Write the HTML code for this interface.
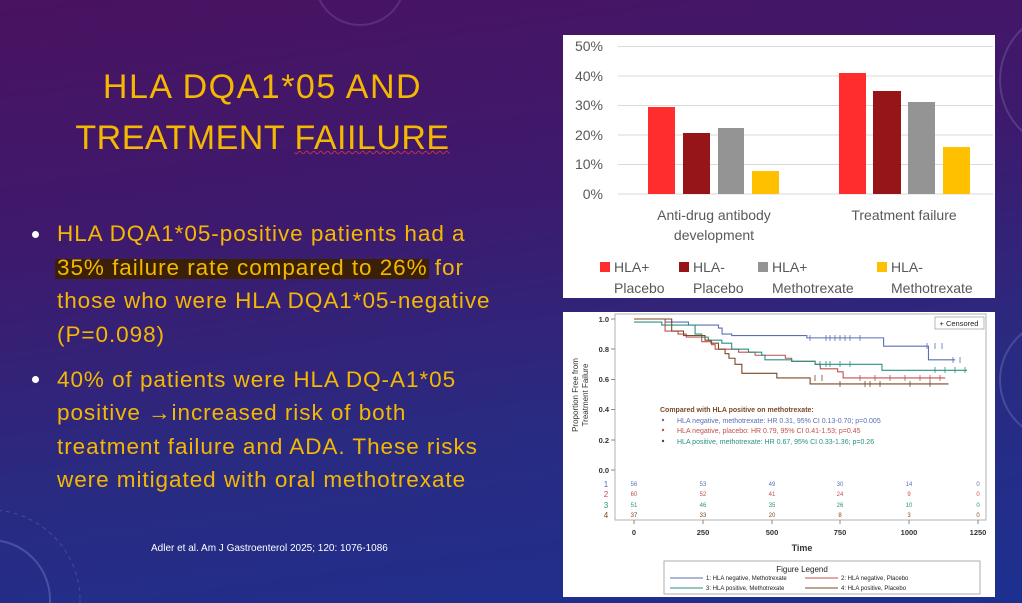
<!DOCTYPE html>
<html><head><meta charset="utf-8"><style>
*{margin:0;padding:0;box-sizing:border-box}
html,body{width:1022px;height:603px;overflow:hidden}
body{position:relative;font-family:"Liberation Sans",sans-serif;
background:linear-gradient(172deg,#4a1260 0%,#3d1a6e 35%,#2a2a80 65%,#1d3090 100%);}
.t{position:absolute;color:#f5b800;white-space:nowrap}
.title{font-size:34px;left:0;width:525px;text-align:center;letter-spacing:0.5px}
.b{font-size:22.5px;left:57px;letter-spacing:0.95px}
.dot{position:absolute;width:7px;height:7px;border-radius:50%;background:#fff}
</style></head><body>
<svg style="position:absolute;left:0;top:0" width="1022" height="603">
<circle cx="1070" cy="80" r="70" fill="none" stroke="#7a6aa8" stroke-width="2" opacity="0.4"/>
<circle cx="1060" cy="380" r="60" fill="none" stroke="#7a8ac8" stroke-width="2" opacity="0.35"/>
<circle cx="-10" cy="600" r="60" fill="none" stroke="#7a8ac8" stroke-width="2" opacity="0.4"/>
<circle cx="-10" cy="600" r="90" fill="none" stroke="#7a8ac8" stroke-width="1" stroke-dasharray="4 4" opacity="0.35"/>
<circle cx="360" cy="-20" r="45" fill="none" stroke="#8a6ab8" stroke-width="2" opacity="0.3"/>
</svg>
<div class="t title" style="top:68px;letter-spacing:1.5px">HLA DQA1*05 AND</div>
<div class="t title" style="top:119px">TREATMENT <span style="text-decoration:underline wavy #c03050;text-decoration-thickness:1px">FAIILURE</span></div>
<div style="position:absolute;left:55px;top:259px;width:374px;height:20px;background:#3a2006"></div>
<div class="dot" style="left:32px;top:231px"></div>
<div class="t b" style="top:221px">HLA DQA1*05-positive patients had a</div>
<div class="t b" style="top:255px">35% failure rate compared to 26% for</div>
<div class="t b" style="top:288px">those who were HLA DQA1*05-negative</div>
<div class="t b" style="top:322px">(P=0.098)</div>
<div class="dot" style="left:32px;top:376px"></div>
<div class="t b" style="top:367px">40% of patients were HLA DQ-A1*05</div>
<div class="t b" style="top:400px">positive &#8594;increased risk of both</div>
<div class="t b" style="top:434px">treatment failure and ADA. These risks</div>
<div class="t b" style="top:467px">were mitigated with oral methotrexate</div>
<div class="t" style="left:151px;top:543px;font-size:10px;color:#fff">Adler et al. Am J Gastroenterol 2025; 120: 1076-1086</div>

<svg style="position:absolute;left:0;top:0" width="1022" height="603" font-family="Liberation Sans, sans-serif">
<rect x="563" y="35" width="432" height="263" fill="#fff"/>
<g stroke="#d9d9d9" stroke-width="1">
<line x1="618" x2="993" y1="46.5" y2="46.5"/><line x1="618" x2="993" y1="76" y2="76"/><line x1="618" x2="993" y1="105.5" y2="105.5"/>
<line x1="618" x2="993" y1="135" y2="135"/><line x1="618" x2="993" y1="164.5" y2="164.5"/><line x1="618" x2="993" y1="194" y2="194"/>
</g>
<g font-size="14" fill="#595959" text-anchor="end">
<text x="603" y="51">50%</text><text x="603" y="81">40%</text><text x="603" y="110">30%</text><text x="603" y="140">20%</text><text x="603" y="169">10%</text><text x="603" y="199">0%</text>
</g>
<rect x="648" y="107" width="27" height="87" fill="#ff2d2d"/>
<rect x="683" y="133" width="27" height="61" fill="#951519"/>
<rect x="718" y="128" width="26" height="66" fill="#949494"/>
<rect x="752" y="171" width="27" height="23" fill="#ffc000"/>
<rect x="839" y="73" width="27" height="121" fill="#ff2d2d"/>
<rect x="873" y="91" width="28" height="103" fill="#951519"/>
<rect x="908" y="102" width="27" height="92" fill="#949494"/>
<rect x="943" y="147" width="27" height="47" fill="#ffc000"/>
<g font-size="14" fill="#595959" text-anchor="middle">
<text x="714" y="220">Anti-drug antibody</text><text x="714" y="240">development</text>
<text x="904" y="220">Treatment failure</text>
</g>
<g font-size="14" fill="#595959">
<rect x="600" y="262" width="10" height="10" fill="#ff2d2d"/><text x="614" y="272">HLA+</text><text x="614" y="293">Placebo</text>
<rect x="679" y="262" width="10" height="10" fill="#951519"/><text x="693" y="272">HLA-</text><text x="693" y="293">Placebo</text>
<rect x="758" y="262" width="10" height="10" fill="#949494"/><text x="772" y="272">HLA+</text><text x="772" y="293">Methotrexate</text>
<rect x="877" y="262" width="10" height="10" fill="#ffc000"/><text x="891" y="272">HLA-</text><text x="891" y="293">Methotrexate</text>
</g>

<rect x="563" y="312" width="432" height="285" fill="#fff"/>
<rect x="615" y="314" width="371" height="206" fill="none" stroke="#b0b0b0" stroke-width="1"/>
<g stroke="#888" stroke-width="1">
<line x1="611" x2="615" y1="319" y2="319"/><line x1="611" x2="615" y1="349" y2="349"/><line x1="611" x2="615" y1="379.5" y2="379.5"/>
<line x1="611" x2="615" y1="409.5" y2="409.5"/><line x1="611" x2="615" y1="440" y2="440"/><line x1="611" x2="615" y1="470" y2="470"/>
<line x1="634" x2="634" y1="520" y2="524"/><line x1="703" x2="703" y1="520" y2="524"/><line x1="772" x2="772" y1="520" y2="524"/>
<line x1="840" x2="840" y1="520" y2="524"/><line x1="909" x2="909" y1="520" y2="524"/><line x1="978" x2="978" y1="520" y2="524"/>
</g>
<g font-size="7.5" fill="#333" text-anchor="end" font-weight="bold">
<text x="609" y="322">1.0</text><text x="609" y="352">0.8</text><text x="609" y="382">0.6</text><text x="609" y="412">0.4</text><text x="609" y="443">0.2</text><text x="609" y="473">0.0</text>
</g>
<g font-size="7.5" fill="#333" text-anchor="middle" font-weight="bold">
<text x="634" y="535">0</text><text x="703" y="535">250</text><text x="772" y="535">500</text><text x="840" y="535">750</text><text x="909" y="535">1000</text><text x="978" y="535">1250</text>
<text x="802" y="551" font-size="9">Time</text>
</g>
<g font-size="8" fill="#333" text-anchor="middle" transform="translate(578,395) rotate(-90)">
<text x="0" y="0">Proportion Free from</text><text x="0" y="10">Treatment Failure</text>
</g>
<rect x="935" y="317" width="49" height="12" fill="#fff" stroke="#999" stroke-width="0.7"/>
<text x="959" y="326" font-size="7.5" text-anchor="middle" fill="#222">+ Censored</text>
<g fill="none" stroke-width="1.1" transform="translate(634,470) scale(0.2752,-151)">
<path vector-effect="non-scaling-stroke" stroke="#5a6fb5" d="M0,1 H113 V0.98 H198 V0.96 H307 V0.94 H320 V0.9 H355 V0.89 H628 V0.875 H907 V0.82 H1070 V0.73 H1167"/>
<path vector-effect="non-scaling-stroke" stroke="#c0504d" d="M0,1 H113 V0.92 H160 V0.9 H190 V0.88 H246 V0.85 H282 V0.83 H295 V0.8 H380 V0.78 H440 V0.76 H550 V0.74 H573 V0.72 H658 V0.7 H677 V0.67 H740 V0.65 H760 V0.61 H1131"/>
<path vector-effect="non-scaling-stroke" stroke="#2b9080" d="M0,0.98 H101 V0.96 H222 V0.9 H246 V0.88 H270 V0.86 H319 V0.84 H355 V0.8 H416 V0.78 H464 V0.76 H476 V0.73 H573 V0.72 H658 V0.7 H901 V0.66 H1210"/>
<path vector-effect="non-scaling-stroke" stroke="#7b4a26" d="M0,1 H137 V0.92 H180 V0.89 H258 V0.86 H280 V0.84 H307 V0.8 H331 V0.77 H345 V0.74 H367 V0.7 H392 V0.64 H519 V0.61 H640 V0.57 H1143"/>
</g>
<g stroke-width="0.8">
<g stroke="#5a6fb5"><path d="M810 335v6M826 335v6M830 335v6M835 335v6M840 335v6M845 335v6M850 335v6M860 335v6M927 343v6M935 343v6M942 343v6M953 357v6M960 357v6"/></g>
<g stroke="#2b9080"><path d="M820 361v6M826 361v6M830 361v6M840 361v6M850 361v6M935 367v6M945 367v6M955 367v6M965 367v6"/></g>
<g stroke="#c0504d"><path d="M860 375v6M875 375v6M890 375v6M905 375v6M920 375v6M930 375v6M940 375v6"/></g>
<g stroke="#7b4a26"><path d="M815 375v6M822 375v6M840 381v6M865 381v6M870 381v6M880 381v6M910 381v6M930 381v6"/></g>
</g>
<g font-size="7">
<text x="660" y="412" fill="#7b4a26" font-weight="bold">Compared with HLA positive on methotrexate:</text>
<circle cx="663" cy="420" r="1.2" fill="#5a6fb5"/><text x="677" y="423" fill="#5a6fb5">HLA negative, methotrexate: HR 0.31, 95% CI 0.13-0.70; p=0.005</text>
<circle cx="663" cy="430" r="1.2" fill="#c0504d"/><text x="677" y="433" fill="#c0504d">HLA negative, placebo: HR 0.79, 95% CI 0.41-1.53; p=0.45</text>
<circle cx="663" cy="441" r="1.2" fill="#1f4e79"/><text x="677" y="444" fill="#2b9080">HLA positive, methotrexate: HR 0.67, 95% CI 0.33-1.36; p=0.26</text>
</g>
<g font-size="6" text-anchor="middle">
<g fill="#5a6fb5"><text x="606" y="487" font-size="8">1</text><text x="634" y="486">56</text><text x="703" y="486">53</text><text x="772" y="486">49</text><text x="840" y="486">30</text><text x="909" y="486">14</text><text x="978" y="486">0</text></g>
<g fill="#c0504d"><text x="606" y="497" font-size="8">2</text><text x="634" y="496">60</text><text x="703" y="496">52</text><text x="772" y="496">41</text><text x="840" y="496">24</text><text x="909" y="496">9</text><text x="978" y="496">0</text></g>
<g fill="#2b9080"><text x="606" y="508" font-size="8">3</text><text x="634" y="507">51</text><text x="703" y="507">46</text><text x="772" y="507">35</text><text x="840" y="507">26</text><text x="909" y="507">10</text><text x="978" y="507">0</text></g>
<g fill="#7b4a26"><text x="606" y="518" font-size="8">4</text><text x="634" y="517">37</text><text x="703" y="517">33</text><text x="772" y="517">20</text><text x="840" y="517">8</text><text x="909" y="517">3</text><text x="978" y="517">0</text></g>
</g>
<rect x="664" y="561" width="316" height="33" fill="#fff" stroke="#999" stroke-width="0.8"/>
<text x="802" y="572" font-size="8" text-anchor="middle" fill="#222">Figure Legend</text>
<g font-size="6" fill="#222">
<line x1="670" x2="703" y1="578" y2="578" stroke="#5a6fb5" stroke-width="1"/><text x="706" y="580">1: HLA negative, Methotrexate</text>
<line x1="805" x2="838" y1="578" y2="578" stroke="#c0504d" stroke-width="1"/><text x="841" y="580">2: HLA negative, Placebo</text>
<line x1="670" x2="703" y1="588" y2="588" stroke="#2b9080" stroke-width="1"/><text x="706" y="590">3: HLA positive, Methotrexate</text>
<line x1="805" x2="838" y1="588" y2="588" stroke="#7b4a26" stroke-width="1"/><text x="841" y="590">4: HLA positive, Placebo</text>
</g>
</svg>
</body></html>
